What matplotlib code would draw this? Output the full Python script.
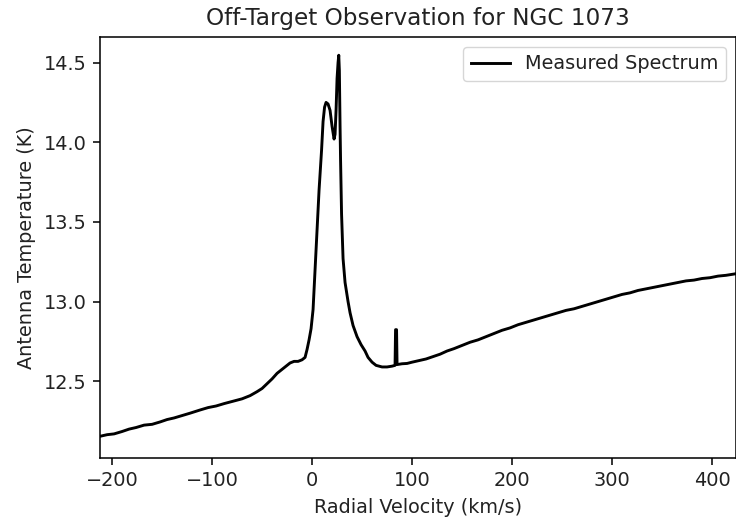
import matplotlib
matplotlib.use("Agg")
import matplotlib.pyplot as plt

velocity = [-212, -205, -198, -190, -183, -176, -168, -160, -152, -145, -138, -130, -122, -112,
            -104, -96, -88, -79, -70, -62, -55, -50, -45, -40, -35, -29, -25, -22, -18, -14,
            -10, -7, -5, -3, -1, 1, 3, 5, 7, 9.5, 11, 12.5, 14, 16, 18, 20, 22, 23, 24, 25, 26,
            26.7, 27.3, 28, 28.5, 29.5, 31, 33, 36, 38, 41, 45, 49, 53, 56, 60, 64, 70, 75, 80,
            83, 83.5, 84.5, 85, 90, 95, 100, 107, 114, 121, 128, 135, 142, 150, 158, 166,
            174, 182, 190, 198, 206, 214, 222, 230, 238, 246, 254, 262, 270, 278, 286, 294,
            302, 310, 318, 326, 334, 342, 350, 358, 366, 374, 382, 390, 398, 406, 414, 424]
temperature = [12.155, 12.165, 12.17, 12.185, 12.2, 12.21, 12.225, 12.23, 12.245, 12.26, 12.27,
               12.285, 12.3, 12.32, 12.335, 12.345, 12.36, 12.375, 12.39, 12.41, 12.435, 12.455,
               12.485, 12.515, 12.55, 12.58, 12.6, 12.615, 12.625, 12.625, 12.635, 12.65, 12.7,
               12.76, 12.83, 12.95, 13.2, 13.45, 13.7, 13.95, 14.13, 14.22, 14.25, 14.24, 14.2, 14.1,
               14.02, 14.05, 14.2, 14.4, 14.5, 14.546, 14.45, 14.1, 13.89, 13.55, 13.27, 13.12,
               13.0, 12.93, 12.85, 12.78, 12.73, 12.69, 12.65, 12.62, 12.6, 12.59, 12.59,
               12.595, 12.6, 12.824, 12.824, 12.605, 12.61, 12.612, 12.62, 12.63, 12.64, 12.655,
               12.67, 12.69, 12.705, 12.725, 12.745, 12.76, 12.78, 12.8, 12.82, 12.835, 12.855,
               12.87, 12.885, 12.9, 12.915, 12.93, 12.945, 12.955, 12.97, 12.985, 13.0, 13.015,
               13.03, 13.045, 13.055, 13.07, 13.08, 13.09, 13.1, 13.11, 13.12, 13.13, 13.135,
               13.145, 13.15, 13.16, 13.165, 13.175]

s = 1.39
plt.rcParams.update({
    "font.size": 10 * s,
    "axes.linewidth": 0.8 * s,
    "xtick.major.size": 3.5 * s,
    "ytick.major.size": 3.5 * s,
    "xtick.major.width": 0.8 * s,
    "ytick.major.width": 0.8 * s,
    "xtick.major.pad": 3.5 * s,
    "ytick.major.pad": 3.5 * s,
    "axes.labelpad": 4.0 * s,
    "axes.titlepad": 6.0 * s,
    "legend.fontsize": 10 * s,
    "text.color": "#222222",
    "xtick.labelcolor": "#222222",
    "ytick.labelcolor": "#222222",
    "axes.labelcolor": "#222222",
})

fig = plt.figure(figsize=(7.36, 5.22), dpi=100)
ax = fig.add_axes([0.136, 0.123, 0.864, 0.806])
ax.plot(velocity, temperature, color="black", linewidth=1.5 * s, label="Measured Spectrum")
ax.set_xlim(-212, 424)
ax.set_ylim(12.02, 14.66)
ax.set_xticks([-200, -100, 0, 100, 200, 300, 400])
ax.set_yticks([12.5, 13.0, 13.5, 14.0, 14.5])
ax.set_xlabel("Radial Velocity (km/s)")
ax.set_ylabel("Antenna Temperature (K)")
ax.set_title("Off-Target Observation for NGC 1073", fontsize=12 * s)
ax.legend(loc="upper right")
fig.savefig("out.png", dpi=100)
